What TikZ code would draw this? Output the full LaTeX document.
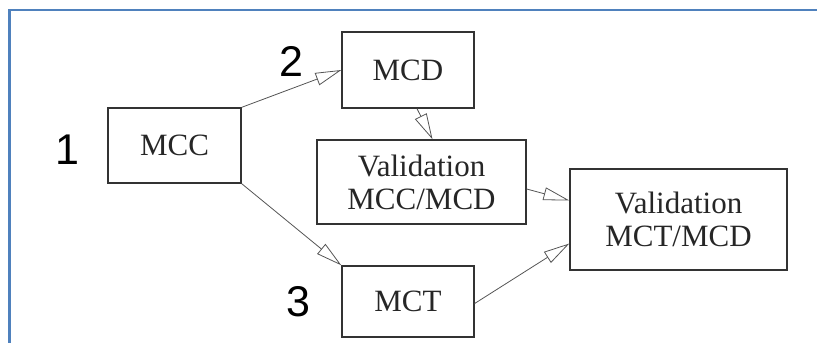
\documentclass[tikz,border=0pt]{standalone}
\usepackage{fontspec}
\setmainfont{Liberation Serif}
\newfontfamily\digitfont{Liberation Sans}
\usetikzlibrary{arrows.meta}
\definecolor{frameblue}{RGB}{79,129,189}
\definecolor{boxline}{RGB}{51,51,51}
\definecolor{arrowline}{RGB}{85,85,85}
\begin{document}
\begin{tikzpicture}[x=1pt,y=1pt,yscale=-1,xscale=1,
  model/.style 2 args={draw=boxline, line width=1.3pt, minimum width=#1, minimum height=#2,
    inner sep=0pt, align=center, text=black!85, font=\fontsize{31}{33}\selectfont},
  stepnum/.style={font=\digitfont\fontsize{43}{43}\selectfont, inner sep=0pt},
  flow/.style={draw=arrowline, line width=0.8pt, -{Triangle[open, length=26pt, width=13pt]}}]
\useasboundingbox (0,0) rectangle (817,343);

%Frame
\draw [frameblue, line width=2.5pt] (817,10) -- (9.5,10) -- (9.5,343);

%Shape: models
\node [model={133pt}{75pt}] (mcc) at (174.5,145.5) {MCC};
\node [model={132pt}{76pt}] (mcd) at (408,70) {MCD};
\node [model={209pt}{84pt}] (valcd) at (421.5,182) {Validation\\MCC/MCD};
\node [model={217pt}{101pt}] (valtd) at (678.5,219.5) {Validation\\MCT/MCD};
\node [model={132pt}{71pt}] (mct) at (408,301.5) {MCT};

% Text Node
\node [stepnum] (one) at (67,150) {1};
\node [stepnum] (two) at (291,61) {2};
\node [stepnum] (three) at (298,302) {3};

%Arrows
\draw [flow] (mcc.north east) -- (mcd.west);
\draw [flow] ([xshift=9pt]mcd.south) -- ([xshift=11pt]valcd.north);
\draw [flow] ([yshift=7pt]valcd.east) -- ([yshift=-19pt]valtd.west);
\draw [flow] (mcc.south east) -- (mct.north west);
\draw [flow] ([yshift=2pt]mct.east) -- ([yshift=24pt]valtd.west);

\end{tikzpicture}
\end{document}
